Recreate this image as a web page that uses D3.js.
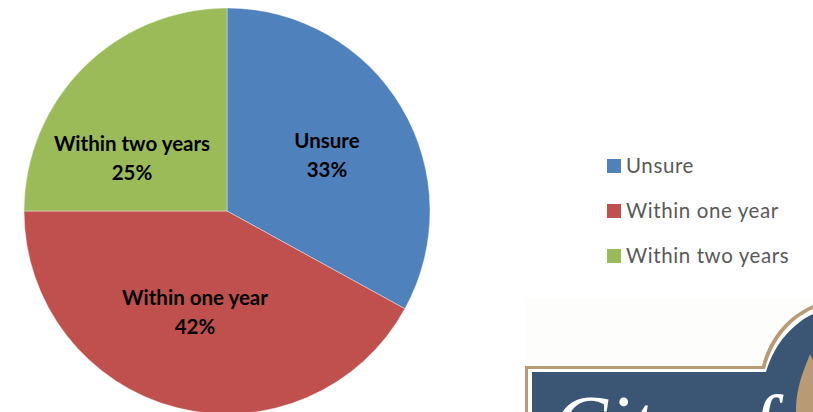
<!DOCTYPE html>
<html lang="en">
<head>
    <meta charset="UTF-8">
    <title>Pie Chart</title>
    <script src="https://d3js.org/d3.v7.min.js"></script>
    <style>
        body { margin: 0; padding: 0; background: #fff; overflow: hidden; }
        text { font-family: Lato, "Noto Sans", sans-serif; }
        .label { font-size: 20.5px; font-weight: 700; fill: #000; text-anchor: middle; }
        .legend-text { font-size: 20.5px; fill: #595959; letter-spacing: 0.6px; }
    </style>
</head>
<body>
    <svg id="chart" width="813" height="412"></svg>

    <script>
        const categories = ["Unsure", "Within one year", "Within two years"];
        const values = [33, 42, 25];
        const colors = ["#4f81bd", "#c0504d", "#9bbb59"];

        const svg = d3.select("#chart");
        const color = d3.scaleOrdinal().domain(categories).range(colors);

        const data = categories.map((name, i) => ({ name, value: values[i] }));
        const pie = d3.pie().value(d => d.value).sort(null);
        const arc = d3.arc().innerRadius(0).outerRadius(203);

        const pieGroup = svg.append("g").attr("transform", "translate(227,211)");

        pieGroup.selectAll("path")
            .data(pie(data))
            .enter().append("path")
            .attr("d", arc)
            .attr("fill", d => color(d.data.name))
            .attr("stroke", "#fff")
            .attr("stroke-width", 0.4);

        // label centres, relative to the pie centre
        const labelPos = [[100, -63], [-32, 94], [-95, -60]];

        const labels = pieGroup.selectAll("text.label")
            .data(pie(data))
            .enter().append("text")
            .attr("class", "label")
            .attr("transform", (d, i) => `translate(${labelPos[i][0]},${labelPos[i][1]})`);
        labels.append("tspan").attr("x", 0).attr("dy", 0).text(d => d.data.name);
        labels.append("tspan").attr("x", 0).attr("dy", 29).text(d => d.data.value + "%");

        // legend
        const legend = svg.selectAll("g.legend")
            .data(categories)
            .enter().append("g")
            .attr("class", "legend")
            .attr("transform", (d, i) => `translate(607,${159 + i * 45})`);
        legend.append("rect").attr("width", 14).attr("height", 14).attr("fill", d => color(d));
        legend.append("text").attr("class", "legend-text").attr("x", 19).attr("y", 14).text(d => d);

        // logo pasted at the bottom right, cut off by the page
        const logo = svg.append("g");
        logo.append("rect").attr("x", 525).attr("y", 298).attr("width", 288).attr("height", 114).attr("fill", "#fdfdfc");
        logo.append("path")
            .attr("d", "M525,412V366H762C770,335 790,315 813,305V412Z")
            .attr("fill", "#b89b74");
        logo.append("path")
            .attr("d", "M528,412V369H765C773,338 792,318 813,309V412Z")
            .attr("fill", "#fff");
        logo.append("path")
            .attr("d", "M532,412V372H766C775,342 794,323 813,314V412Z")
            .attr("fill", "#3b5674");
        logo.append("path")
            .attr("d", "M810,354C805,368 796,385 796,412H813V360Z")
            .attr("fill", "#b89b74");
        logo.append("text")
            .attr("x", 553).attr("y", 452)
            .attr("font-size", 82)
            .attr("font-style", "italic")
            .style("font-family", "'Liberation Serif', serif")
            .attr("fill", "#fff")
            .text("City of");
    </script>
</body>
</html>
